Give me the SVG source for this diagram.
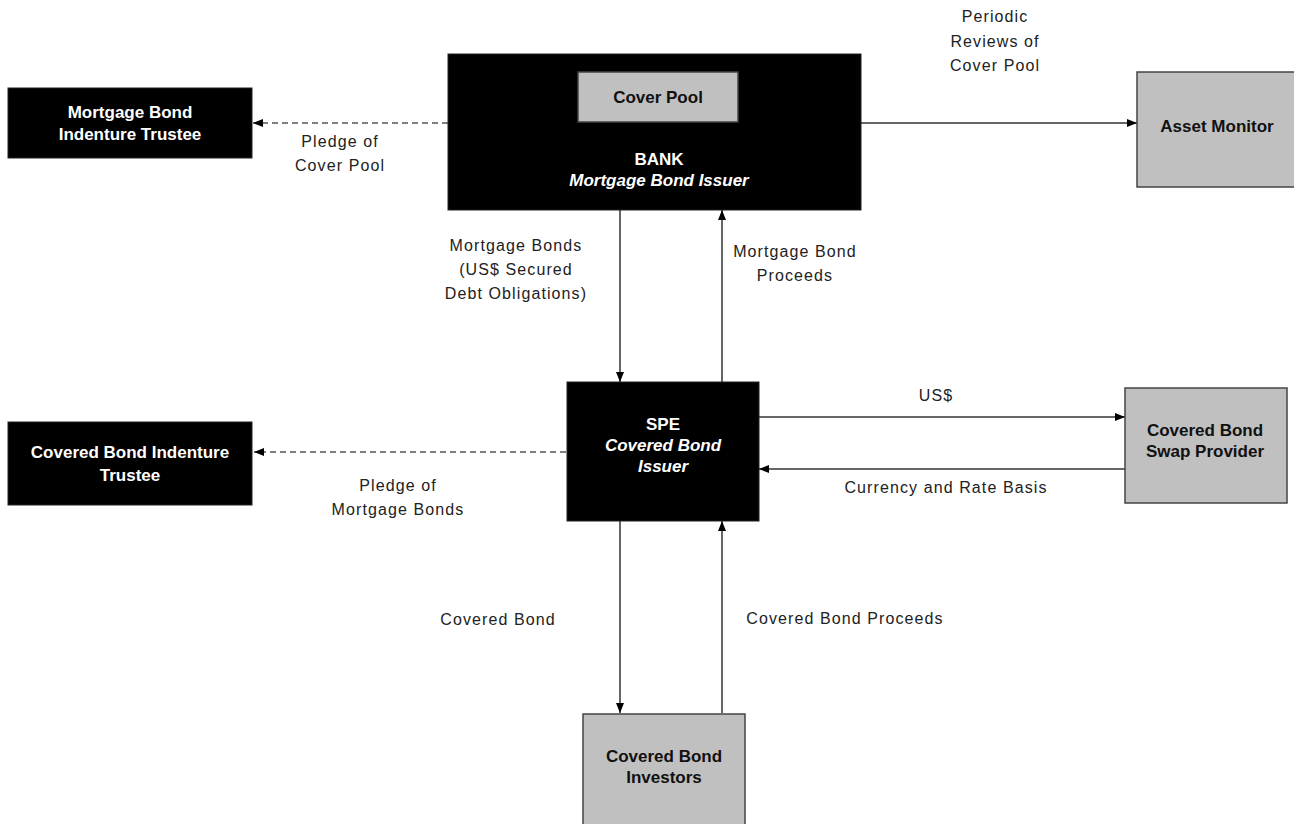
<svg xmlns="http://www.w3.org/2000/svg" width="1294" height="824" viewBox="0 0 1294 824">
<style>
.dark{fill:#000;stroke:#222;stroke-width:1}
.gray{fill:#c0c0c0;stroke:#444;stroke-width:1.5}
.wt{fill:#fff;font-family:"Liberation Sans",Arial,sans-serif;font-size:17px;font-weight:bold;text-anchor:middle}
.wi{font-style:italic}
.bt{fill:#111;font-family:"Liberation Sans",Arial,sans-serif;font-size:17px;font-weight:bold;text-anchor:middle}
.lb{fill:#222;font-family:"Liberation Sans",Arial,sans-serif;font-size:16px;letter-spacing:1.1px;text-anchor:middle}
.ln{stroke:#333;stroke-width:1.5;fill:none}
.dash{stroke:#555;stroke-width:1.5;fill:none;stroke-dasharray:6 4}
</style>
<defs>
<marker id="ah" viewBox="0 0 10 10" refX="10" refY="5" markerWidth="10" markerHeight="10" markerUnits="userSpaceOnUse" orient="auto">
<path d="M0,1 L10,5 L0,9 Z" fill="#000"/>
</marker>
</defs>
<g id="connectors">
<line class="dash" x1="448" y1="123" x2="253" y2="123" marker-end="url(#ah)"/>
<line class="ln" x1="861" y1="123" x2="1137" y2="123" marker-end="url(#ah)"/>
<line class="ln" x1="620" y1="210" x2="620" y2="382" marker-end="url(#ah)"/>
<line class="ln" x1="722" y1="382" x2="722" y2="210" marker-end="url(#ah)"/>
<line class="dash" x1="566" y1="452" x2="254" y2="452" marker-end="url(#ah)"/>
<line class="ln" x1="759" y1="417" x2="1125" y2="417" marker-end="url(#ah)"/>
<line class="ln" x1="1125" y1="469" x2="759" y2="469" marker-end="url(#ah)"/>
<line class="ln" x1="620" y1="521" x2="620" y2="713" marker-end="url(#ah)"/>
<line class="ln" x1="722" y1="713" x2="722" y2="521" marker-end="url(#ah)"/>
<text class="lb"><tspan x="995" y="22">Periodic</tspan><tspan x="995" y="47">Reviews of</tspan><tspan x="995" y="71">Cover Pool</tspan></text>
<text class="lb"><tspan x="340" y="147">Pledge of</tspan><tspan x="340" y="171">Cover Pool</tspan></text>
<text class="lb"><tspan x="516" y="251">Mortgage Bonds</tspan><tspan x="516" y="275">(US$ Secured</tspan><tspan x="516" y="299">Debt Obligations)</tspan></text>
<text class="lb"><tspan x="795" y="257">Mortgage Bond</tspan><tspan x="795" y="281">Proceeds</tspan></text>
<text class="lb" x="936" y="401">US$</text>
<text class="lb" x="946" y="493">Currency and Rate Basis</text>
<text class="lb"><tspan x="398" y="491">Pledge of</tspan><tspan x="398" y="515">Mortgage Bonds</tspan></text>
<text class="lb" x="498" y="625">Covered Bond</text>
<text class="lb" x="845" y="624">Covered Bond Proceeds</text>
</g>
<g id="mb-trustee">
<rect class="dark" x="8" y="88" width="244" height="70"/>
<text class="wt"><tspan x="130" y="118">Mortgage Bond</tspan><tspan x="130" y="140">Indenture Trustee</tspan></text>
</g>
<g id="bank">
<rect class="dark" x="448" y="54" width="413" height="156"/>
<text class="wt" x="659" y="165">BANK</text>
<text class="wt wi" x="659" y="186">Mortgage Bond Issuer</text>
</g>
<g id="cover-pool">
<rect class="gray" x="578" y="72" width="160" height="50"/>
<text class="bt" x="658" y="103">Cover Pool</text>
</g>
<g id="asset-monitor">
<rect class="gray" x="1137" y="72" width="160" height="115"/>
<text class="bt" x="1217" y="132">Asset Monitor</text>
</g>
<g id="cb-trustee">
<rect class="dark" x="8" y="422" width="244" height="83"/>
<text class="wt"><tspan x="130" y="458">Covered Bond Indenture</tspan><tspan x="130" y="481">Trustee</tspan></text>
</g>
<g id="spe">
<rect class="dark" x="567" y="382" width="192" height="139"/>
<text class="wt" x="663" y="430">SPE</text>
<text class="wt wi" x="663" y="451">Covered Bond</text>
<text class="wt wi" x="663" y="472">Issuer</text>
</g>
<g id="swap-provider">
<rect class="gray" x="1125" y="388" width="162" height="115"/>
<text class="bt"><tspan x="1205" y="436">Covered Bond</tspan><tspan x="1205" y="457">Swap Provider</tspan></text>
</g>
<g id="investors">
<rect class="gray" x="583" y="714" width="162" height="120"/>
<text class="bt"><tspan x="664" y="762">Covered Bond</tspan><tspan x="664" y="783">Investors</tspan></text>
</g>
</svg>
